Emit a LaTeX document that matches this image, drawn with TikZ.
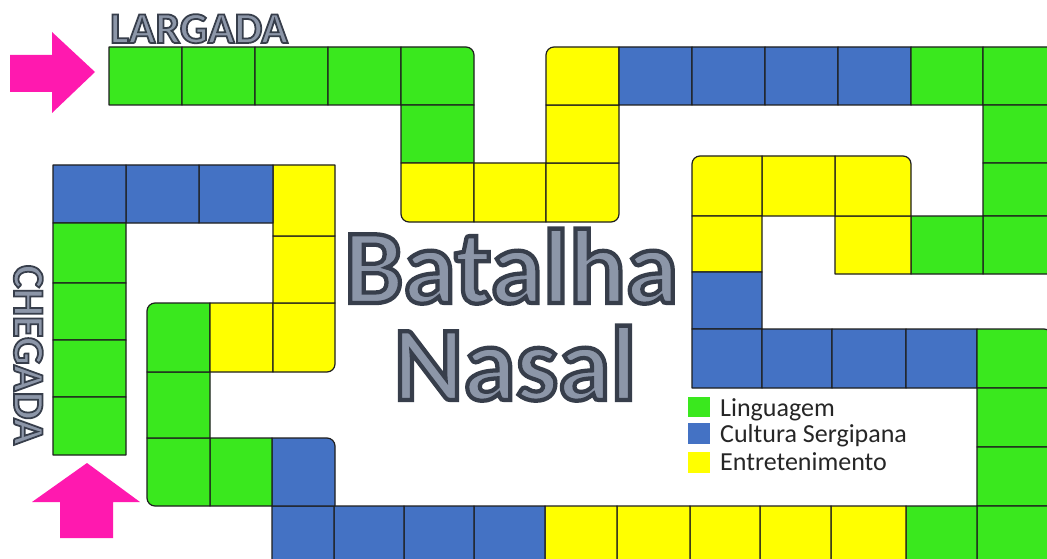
\documentclass[tikz,border=0pt]{standalone}
\usepackage{fontspec}
\setmainfont{Carlito}
\newfontfamily\bigtitlefont[FakeBold=4]{Carlito Bold}
\newfontfamily\smalltitlefont[FakeBold=4]{Carlito Bold}
\newcommand\strokeline{\special{pdf:code 0.216 0.243 0.294 RG}}
\definecolor{cgreen}{RGB}{58,232,30}
\definecolor{cblue}{RGB}{68,114,196}
\definecolor{cyellow}{RGB}{255,255,0}
\definecolor{cpink}{RGB}{255,25,175}
\definecolor{titlefill}{RGB}{140,150,168}
\definecolor{cellborder}{RGB}{30,30,30}
\tikzset{
  cellline/.style={draw=cellborder, line width=1.2pt, line join=round},
  arrowshape/.style={fill=cpink, draw=none},
  titletext/.style={text=titlefill, font=\bigtitlefont\fontsize{106}{106}\selectfont, inner sep=0pt},
  labeltext/.style={text=titlefill, font=\smalltitlefont\fontsize{44}{44}\selectfont, inner sep=0pt},
  legendtext/.style={text=black!85, font=\fontsize{26}{26}\selectfont, anchor=base west, inner sep=0pt}
}
% x1 y1 x2 y2 colour rTL rTR rBR rBL
\newcommand\boardcell[9]{%
  \filldraw[cellline, fill=#5] (#1+#6,#2) -- (#3-#7,#2)
    arc[start angle=270,end angle=360,radius=#7] -- (#3,#4-#8)
    arc[start angle=0,end angle=90,radius=#8] -- (#1+#9,#4)
    arc[start angle=90,end angle=180,radius=#9] -- (#1,#2+#6)
    arc[start angle=180,end angle=270,radius=#6] -- cycle;}
\newcommand\sq[5]{\boardcell{#1}{#2}{#3}{#4}{#5}{0.01}{0.01}{0.01}{0.01}}
\begin{document}
\begin{tikzpicture}[x=1pt,y=-1pt]
\useasboundingbox (0,0) rectangle (1047,559);
\fill[white] (0,0) rectangle (1047,559);
% ---- top row
\sq{109}{47}{182}{105}{cgreen}
\sq{182}{47}{255}{105}{cgreen}
\sq{255}{47}{328}{105}{cgreen}
\sq{328}{47}{401}{105}{cgreen}
\boardcell{401}{47}{474}{105}{cgreen}{0.01}{8}{0.01}{0.01}
\sq{401}{105}{474}{163}{cgreen}
\boardcell{401}{163}{474}{222}{cyellow}{0.01}{0.01}{0.01}{8}
\sq{474}{163}{546}{222}{cyellow}
\boardcell{546}{163}{619}{222}{cyellow}{0.01}{0.01}{8}{0.01}
\sq{546}{105}{619}{163}{cyellow}
\boardcell{546}{47}{619}{105}{cyellow}{8}{0.01}{0.01}{0.01}
\sq{619}{47}{692}{105}{cblue}
\sq{692}{47}{765}{105}{cblue}
\sq{765}{47}{838}{105}{cblue}
\sq{838}{47}{911}{105}{cblue}
\sq{911}{47}{983}{105}{cgreen}
\sq{983}{47}{1052}{105}{cgreen}
% ---- right column down
\sq{983}{105}{1052}{163}{cgreen}
\sq{983}{163}{1052}{216}{cgreen}
\sq{983}{216}{1052}{274}{cgreen}
\sq{911}{216}{983}{274}{cgreen}
\sq{835}{216}{911}{274}{cyellow}
\boardcell{835}{156}{911}{216}{cyellow}{0.01}{8}{0.01}{0.01}
\sq{762}{156}{835}{216}{cyellow}
\boardcell{692}{156}{762}{216}{cyellow}{8}{0.01}{0.01}{0.01}
\sq{692}{216}{762}{272}{cyellow}
\sq{692}{272}{762}{329}{cblue}
\sq{692}{329}{762}{388}{cblue}
\sq{762}{329}{832}{388}{cblue}
\sq{832}{329}{906}{388}{cblue}
\sq{906}{329}{977}{388}{cblue}
\boardcell{977}{329}{1052}{388}{cgreen}{0.01}{8}{0.01}{0.01}
\sq{977}{388}{1052}{447}{cgreen}
\sq{977}{447}{1052}{506}{cgreen}
\sq{977}{506}{1052}{565}{cgreen}
% ---- bottom row
\sq{906}{506}{977}{565}{cgreen}
\sq{831}{506}{906}{565}{cyellow}
\sq{760}{506}{831}{565}{cyellow}
\sq{690}{506}{760}{565}{cyellow}
\sq{617}{506}{690}{565}{cyellow}
\sq{545}{506}{617}{565}{cyellow}
\sq{474}{506}{545}{565}{cblue}
\sq{404}{506}{474}{565}{cblue}
\sq{334}{506}{404}{565}{cblue}
\sq{272}{506}{334}{565}{cblue}
% ---- left S part
\boardcell{272}{438}{335}{506}{cblue}{0.01}{8}{0.01}{0.01}
\sq{210}{438}{272}{506}{cgreen}
\boardcell{147}{438}{210}{506}{cgreen}{0.01}{0.01}{0.01}{8}
\sq{147}{372}{210}{438}{cgreen}
\boardcell{147}{303}{210}{372}{cgreen}{8}{0.01}{0.01}{0.01}
\sq{210}{303}{273}{372}{cyellow}
\boardcell{273}{303}{335}{372}{cyellow}{0.01}{0.01}{8}{0.01}
\sq{273}{236}{335}{303}{cyellow}
\sq{273}{165}{335}{236}{cyellow}
\sq{199}{165}{273}{223}{cblue}
\sq{126}{165}{199}{223}{cblue}
\sq{53}{165}{126}{223}{cblue}
\sq{53}{223}{126}{283}{cgreen}
\sq{53}{283}{126}{340}{cgreen}
\sq{53}{340}{126}{397}{cgreen}
\sq{53}{397}{126}{455}{cgreen}
% ---- arrows
\fill[arrowshape] (10,55) -- (52,55) -- (52,32) -- (95,72) -- (52,113) -- (52,92) -- (10,92) -- cycle;
\fill[arrowshape] (60,538) -- (60,502) -- (32,502) -- (87,463) -- (140,502) -- (113,502) -- (113,538) -- cycle;
% ---- labels
\node[labeltext, anchor=base] (largada) at (199,43) {\strokeline LARGADA};
\node[labeltext, anchor=base, rotate=-90] (chegada) at (14,355) {\strokeline CHEGADA};
\node[titletext, anchor=base] (batalha) at (511,303) {\strokeline Batalha};
\node[titletext, anchor=base] (nasal) at (515,400) {\strokeline Nasal};
% ---- legend
\fill[cgreen] (688,397) rectangle (710,417);
\fill[cblue] (688,423) rectangle (710,444);
\fill[cyellow] (688,452) rectangle (710,473);
\node[legendtext] (lg1) at (720,416) {Linguagem};
\node[legendtext] (lg2) at (720,442) {Cultura Sergipana};
\node[legendtext] (lg3) at (720,470) {Entretenimento};
\end{tikzpicture}
\end{document}
